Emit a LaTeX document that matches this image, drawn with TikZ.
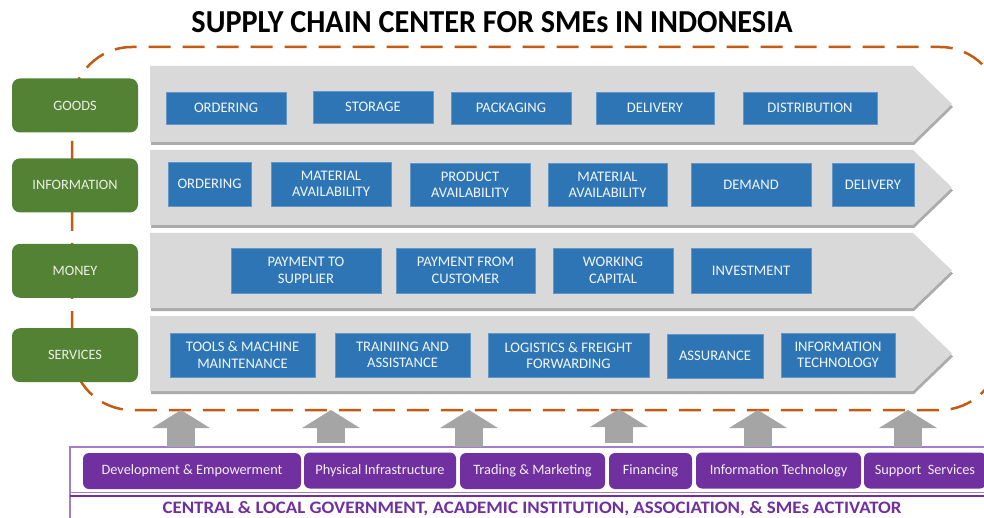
\documentclass[tikz,border=0pt]{standalone}
\usepackage{graphicx}
\usepackage{fontspec}
\setmainfont{Carlito}
\usetikzlibrary{arrows.meta,positioning}

\definecolor{stagegreen}{HTML}{548235}
\definecolor{itemblue}{HTML}{2E75B6}
\definecolor{bandgray}{HTML}{D9D9D9}
\definecolor{bandshade}{HTML}{ABABAB}
\definecolor{rimorange}{HTML}{C55A11}
\definecolor{pushgray}{HTML}{A5A5A5}
\definecolor{actorpurple}{HTML}{7030A0}
\definecolor{framepurple}{HTML}{A47DCB}

\begin{document}
\begin{tikzpicture}[x=1pt,y=-1pt]
\tikzstyle{stage}=[rectangle,rounded corners=8pt,fill=stagegreen,
text=white!88!stagegreen,minimum width=126pt,minimum height=54pt,
inner sep=0pt,font=\fontsize{14.3}{16}\selectfont]
\tikzstyle{item}=[rectangle,fill=itemblue,draw=itemblue!75!white,
line width=0.6pt,text=white!94!itemblue,align=center,inner sep=0pt,
font=\fontsize{14.6}{16.5}\selectfont]
\tikzstyle{actor}=[rectangle,rounded corners=6pt,fill=actorpurple,
text=white!92!actorpurple,minimum height=36pt,inner sep=0pt,
font=\fontsize{14.3}{16}\selectfont]
\tikzstyle{push}=[draw=pushgray,line width=28pt,
-{Triangle[width=57pt,length=18pt]}]
\tikzstyle{band}=[fill=bandgray]
\tikzstyle{bandshadow}=[fill=bandshade]

\useasboundingbox (0,0) rectangle (984,518);

\node (title) at (492,22) {\resizebox{601pt}{21pt}{\bfseries SUPPLY CHAIN CENTER FOR SMEs IN INDONESIA}};

% dashed frame round the four flows
\draw[rimorange,line width=2.5pt,dash pattern=on 22pt off 12pt,
rounded corners=60pt] (72,47) rectangle (1000,410);

% grey chevron bands
\fill[bandshadow] (151,69) -- (914,69) -- (953,107) -- (914,145) -- (151,145) -- cycle;
\fill[band] (150,66) -- (913,66) -- (952,104) -- (913,142) -- (150,142) -- cycle;
\fill[bandshadow] (151,153) -- (914,153) -- (953,190.5) -- (914,228) -- (151,228) -- cycle;
\fill[band] (150,150) -- (913,150) -- (952,187.5) -- (913,225) -- (150,225) -- cycle;
\fill[bandshadow] (151,236) -- (914,236) -- (953,273.5) -- (914,311) -- (151,311) -- cycle;
\fill[band] (150,233) -- (913,233) -- (952,270.5) -- (913,308) -- (150,308) -- cycle;
\fill[bandshadow] (151,319) -- (914,319) -- (953,356.5) -- (914,394) -- (151,394) -- cycle;
\fill[band] (150,316) -- (913,316) -- (952,353.5) -- (913,391) -- (150,391) -- cycle;

% flows
\node[stage] at (75,105.5) (s1) {GOODS};
\node[stage,below=25.5pt of s1] (s2) {INFORMATION};
\node[stage,below=31pt of s2] (s3) {MONEY};
\node[stage,below=30pt of s3] (s4) {SERVICES};

% goods
\node[item,minimum width=120pt,minimum height=32pt] at (226,108) (g1) {ORDERING};
\node[item,minimum width=120pt,minimum height=32pt] at (373,107) (g2) {STORAGE};
\node[item,minimum width=120pt,minimum height=32pt] at (511,108) (g3) {PACKAGING};
\node[item,minimum width=118pt,minimum height=32pt] at (655,108) (g4) {DELIVERY};
\node[item,minimum width=134pt,minimum height=32pt] at (810,108) (g5) {DISTRIBUTION};

% information
\node[item,minimum width=83pt,minimum height=44pt] at (209.5,184) (i1) {ORDERING};
\node[item,minimum width=120pt,minimum height=44pt] at (331,184) (i2) {MATERIAL\\AVAILABILITY};
\node[item,minimum width=120pt,minimum height=43pt] at (470,185) (i3) {PRODUCT\\AVAILABILITY};
\node[item,minimum width=119pt,minimum height=43pt] at (607.5,185) (i4) {MATERIAL\\AVAILABILITY};
\node[item,minimum width=120pt,minimum height=43pt] at (751,185) (i5) {DEMAND};
\node[item,minimum width=82pt,minimum height=43pt] at (873,185) (i6) {DELIVERY};

% money
\node[item,minimum width=150pt,minimum height=45pt] at (306,270.5) (m1) {PAYMENT TO\\SUPPLIER};
\node[item,minimum width=139pt,minimum height=45pt] at (465.5,270.5) (m2) {PAYMENT FROM\\CUSTOMER};
\node[item,minimum width=120pt,minimum height=45pt] at (613,270.5) (m3) {WORKING\\CAPITAL};
\node[item,minimum width=120pt,minimum height=45pt] at (751,270.5) (m4) {INVESTMENT};

% services
\node[item,minimum width=145pt,minimum height=44pt] at (242.5,355) (v1) {TOOLS \& MACHINE\\MAINTENANCE};
\node[item,minimum width=135pt,minimum height=44pt] at (402.5,355) (v2) {TRAINIING AND\\ASSISTANCE};
\node[item,minimum width=161pt,minimum height=44pt] at (568.5,355.5) (v3) {LOGISTICS \& FREIGHT\\FORWARDING};
\node[item,minimum width=96pt,minimum height=44pt] at (715,356) (v4) {ASSURANCE};
\node[item,minimum width=114pt,minimum height=44pt] at (838,355) (v5) {INFORMATION\\TECHNOLOGY};

% support base
\draw[framepurple,line width=1.5pt] (1000,447) -- (70,447) -- (70,530);
\draw[framepurple,line width=1pt] (70,492.5) -- (1000,492.5);
\draw[actorpurple,line width=1.5pt] (70,496) -- (1000,496);

\node[actor,minimum width=218pt] at (192,471) (a1) {Development \& Empowerment};
\node[actor,minimum width=152pt] at (380,470.5) (a2) {Physical Infrastructure};
\node[actor,minimum width=145pt] at (532.5,471) (a3) {Trading \& Marketing};
\node[actor,minimum width=83pt] at (650.5,471) (a4) {Financing};
\node[actor,minimum width=165pt] at (778.5,470.5) (a5) {Information Technology};
\node[actor,minimum width=122pt] at (925,470.5) (a6) {Support\ \ Services};

\node[text=actorpurple,font=\bfseries\fontsize{17.5}{20}\selectfont] at (532,509) (base)
{\scalebox{1.08}[1]{CENTRAL \& LOCAL GOVERNMENT, ACADEMIC INSTITUTION, ASSOCIATION, \& SMEs ACTIVATOR}};

% grey push arrows
\coordinate (p1) at (181,447);
\coordinate (q1) at (181,410);
\coordinate (p2) at (331,443);
\coordinate (q2) at (331,410);
\coordinate (p3) at (469,447);
\coordinate (q3) at (469,410);
\coordinate (p4) at (619,443);
\coordinate (q4) at (619,409);
\coordinate (p5) at (758,447);
\coordinate (q5) at (758,410);
\coordinate (p6) at (908,447);
\coordinate (q6) at (908,410);
\draw[push] (p1) -- (q1);
\draw[push] (p2) -- (q2);
\draw[push] (p3) -- (q3);
\draw[push] (p4) -- (q4);
\draw[push] (p5) -- (q5);
\draw[push] (p6) -- (q6);

\end{tikzpicture}
\end{document}
